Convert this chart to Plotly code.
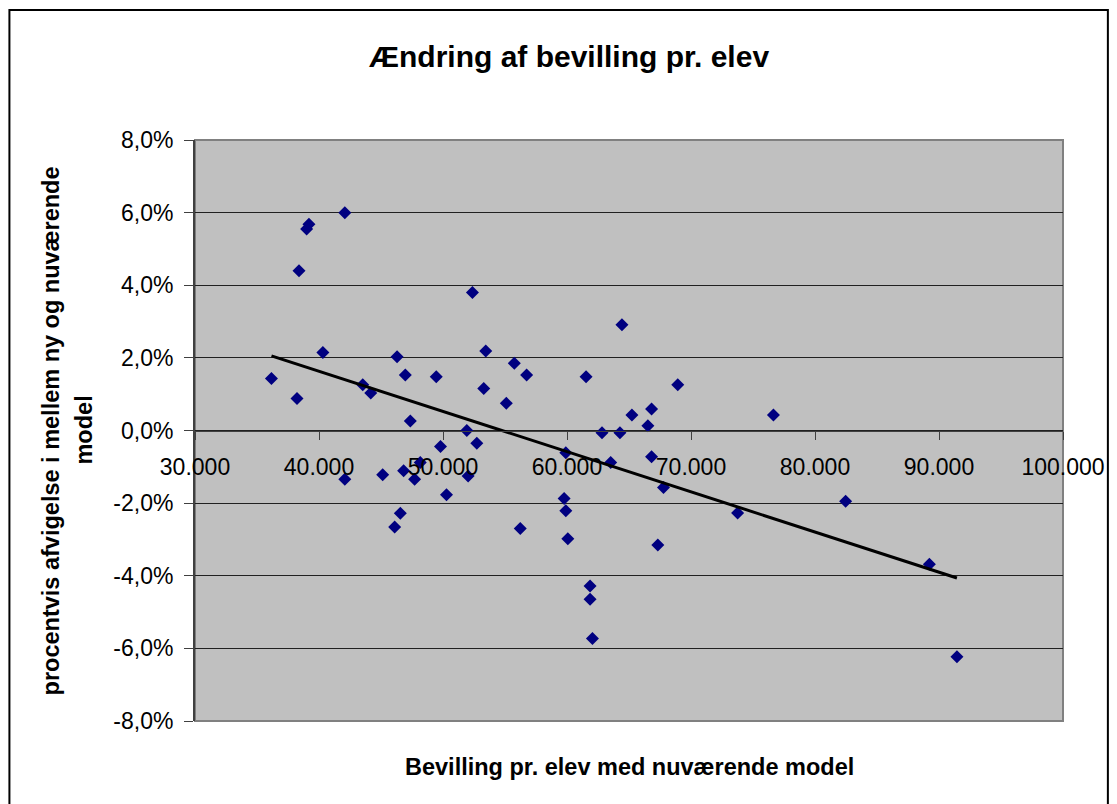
import numpy as np
import plotly.graph_objects as go

# Bevilling pr. elev med nuværende model (kr.)
bevilling = [36166, 38224, 38386, 39004, 39190, 40314, 42083, 42083, 43530, 44173,
             45137, 46102, 46295, 46560, 46826, 46962, 47364, 47710, 48168, 49454,
             49800, 50283, 51922, 52027, 52374, 52726, 53289, 53450, 55106, 55750,
             56231, 56746, 59770, 59905, 59905, 60066, 61537, 61858, 61858, 62051,
             62823, 63523, 64270, 64432, 65235, 66522, 66819, 66819, 67326, 67784,
             68934, 73758, 76650, 82470, 89224, 91445]
# procentvis afvigelse (fraction)
afvigelse = [0.0143, 0.0088, 0.0440, 0.0555, 0.0568, 0.0215, 0.0600, -0.0134, 0.0126, 0.0103,
             -0.0122, -0.0266, 0.0203, -0.0228, -0.0111, 0.0153, 0.0026, -0.0134, -0.0088, 0.0148,
             -0.0044, -0.0177, 0.0000, -0.0125, 0.0380, -0.0035, 0.0116, 0.0219, 0.0075, 0.0185,
             -0.0270, 0.0153, -0.0187, -0.0061, -0.0221, -0.0298, 0.0148, -0.0428, -0.0465, -0.0573,
             -0.0006, -0.0088, -0.0006, 0.0291, 0.0043, 0.0013, 0.0059, -0.0072, -0.0315, -0.0157,
             0.0126, -0.0227, 0.0043, -0.0195, -0.0368, -0.0623]

x_tick_vals = [30000, 40000, 50000, 60000, 70000, 80000, 90000, 100000]
x_tick_labels = ["30.000", "40.000", "50.000", "60.000", "70.000", "80.000", "90.000", "100.000"]
y_tick_vals = [-0.08, -0.06, -0.04, -0.02, 0.0, 0.02, 0.04, 0.06, 0.08]
y_tick_labels = ["-8,0%", "-6,0%", "-4,0%", "-2,0%", "0,0%", "2,0%", "4,0%", "6,0%", "8,0%"]

title_text = "Ændring af bevilling pr. elev"
x_title = "Bevilling pr. elev med nuværende model"
y_title_1 = "procentvis afvigelse i mellem ny og nuværende"
y_title_2 = "model"

FONT = "Liberation Sans, Arial, sans-serif"

xa = np.array(bevilling, dtype=float)
ya = np.array(afvigelse, dtype=float)
slope, intercept = np.polyfit(xa, ya, 1)
trend_x = [xa.min(), xa.max()]
trend_y = [slope * v + intercept for v in trend_x]

fig = go.Figure()
fig.add_trace(go.Scatter(
    x=bevilling, y=afvigelse, mode="markers",
    marker=dict(symbol="diamond", color="#000080", size=10, line=dict(width=0)),
    showlegend=False, hoverinfo="x+y"))
fig.add_trace(go.Scatter(
    x=trend_x, y=trend_y, mode="lines",
    line=dict(color="black", width=3), showlegend=False, hoverinfo="skip"))

fig.update_layout(
    width=1109, height=796,
    margin=dict(l=187, r=52, t=132, b=83),
    paper_bgcolor="white", plot_bgcolor="#C0C0C0",
    font=dict(family=FONT, size=23, color="black"),
    showlegend=False,
    xaxis=dict(range=[30000, 100000], tickvals=x_tick_vals, ticktext=x_tick_labels,
               showgrid=False, zeroline=False, anchor="free", position=0.5,
               showline=True, linecolor="#404040", linewidth=1,
               ticks="outside", ticklen=8, tickcolor="#404040", tickwidth=1,
               ticklabelstandoff=8,
               tickfont=dict(family=FONT, size=23, color="black")),
    yaxis=dict(range=[-0.08, 0.08], tickvals=y_tick_vals, ticktext=y_tick_labels,
               showgrid=True, gridcolor="#202020", gridwidth=1, zeroline=False,
               showline=True, linecolor="#404040", linewidth=2,
               ticks="outside", ticklen=9, tickcolor="#404040", tickwidth=1,
               ticklabelstandoff=6,
               tickfont=dict(family=FONT, size=23, color="black")),
    shapes=[
        dict(type="rect", xref="paper", yref="paper", x0=0, x1=1, y0=0, y1=1,
             line=dict(color="#808080", width=2), layer="below"),
        dict(type="rect", xref="paper", yref="paper", x0=-0.2138, x1=1.0517, y0=-0.16, y1=1.2238,
             line=dict(color="black", width=2)),
    ],
    annotations=[
        dict(text="<b>" + title_text + "</b>", xref="paper", yref="paper", x=0.431, y=1.143,
             xanchor="center", yanchor="middle", showarrow=False,
             font=dict(family=FONT, size=30, color="black")),
        dict(text="<b>" + x_title + "</b>", xref="paper", yref="paper", x=0.5, y=-0.0792,
             xanchor="center", yanchor="middle", showarrow=False,
             font=dict(family=FONT, size=23.5, color="black")),
        dict(text="<b>" + y_title_1 + "</b>", xref="paper", yref="paper", x=-0.166, y=0.5,
             xanchor="center", yanchor="middle", showarrow=False, textangle=-90,
             font=dict(family=FONT, size=23.5, color="black")),
        dict(text="<b>" + y_title_2 + "</b>", xref="paper", yref="paper", x=-0.129, y=0.5,
             xanchor="center", yanchor="middle", showarrow=False, textangle=-90,
             font=dict(family=FONT, size=23.5, color="black")),
    ],
)

fig.write_html("out.html")
